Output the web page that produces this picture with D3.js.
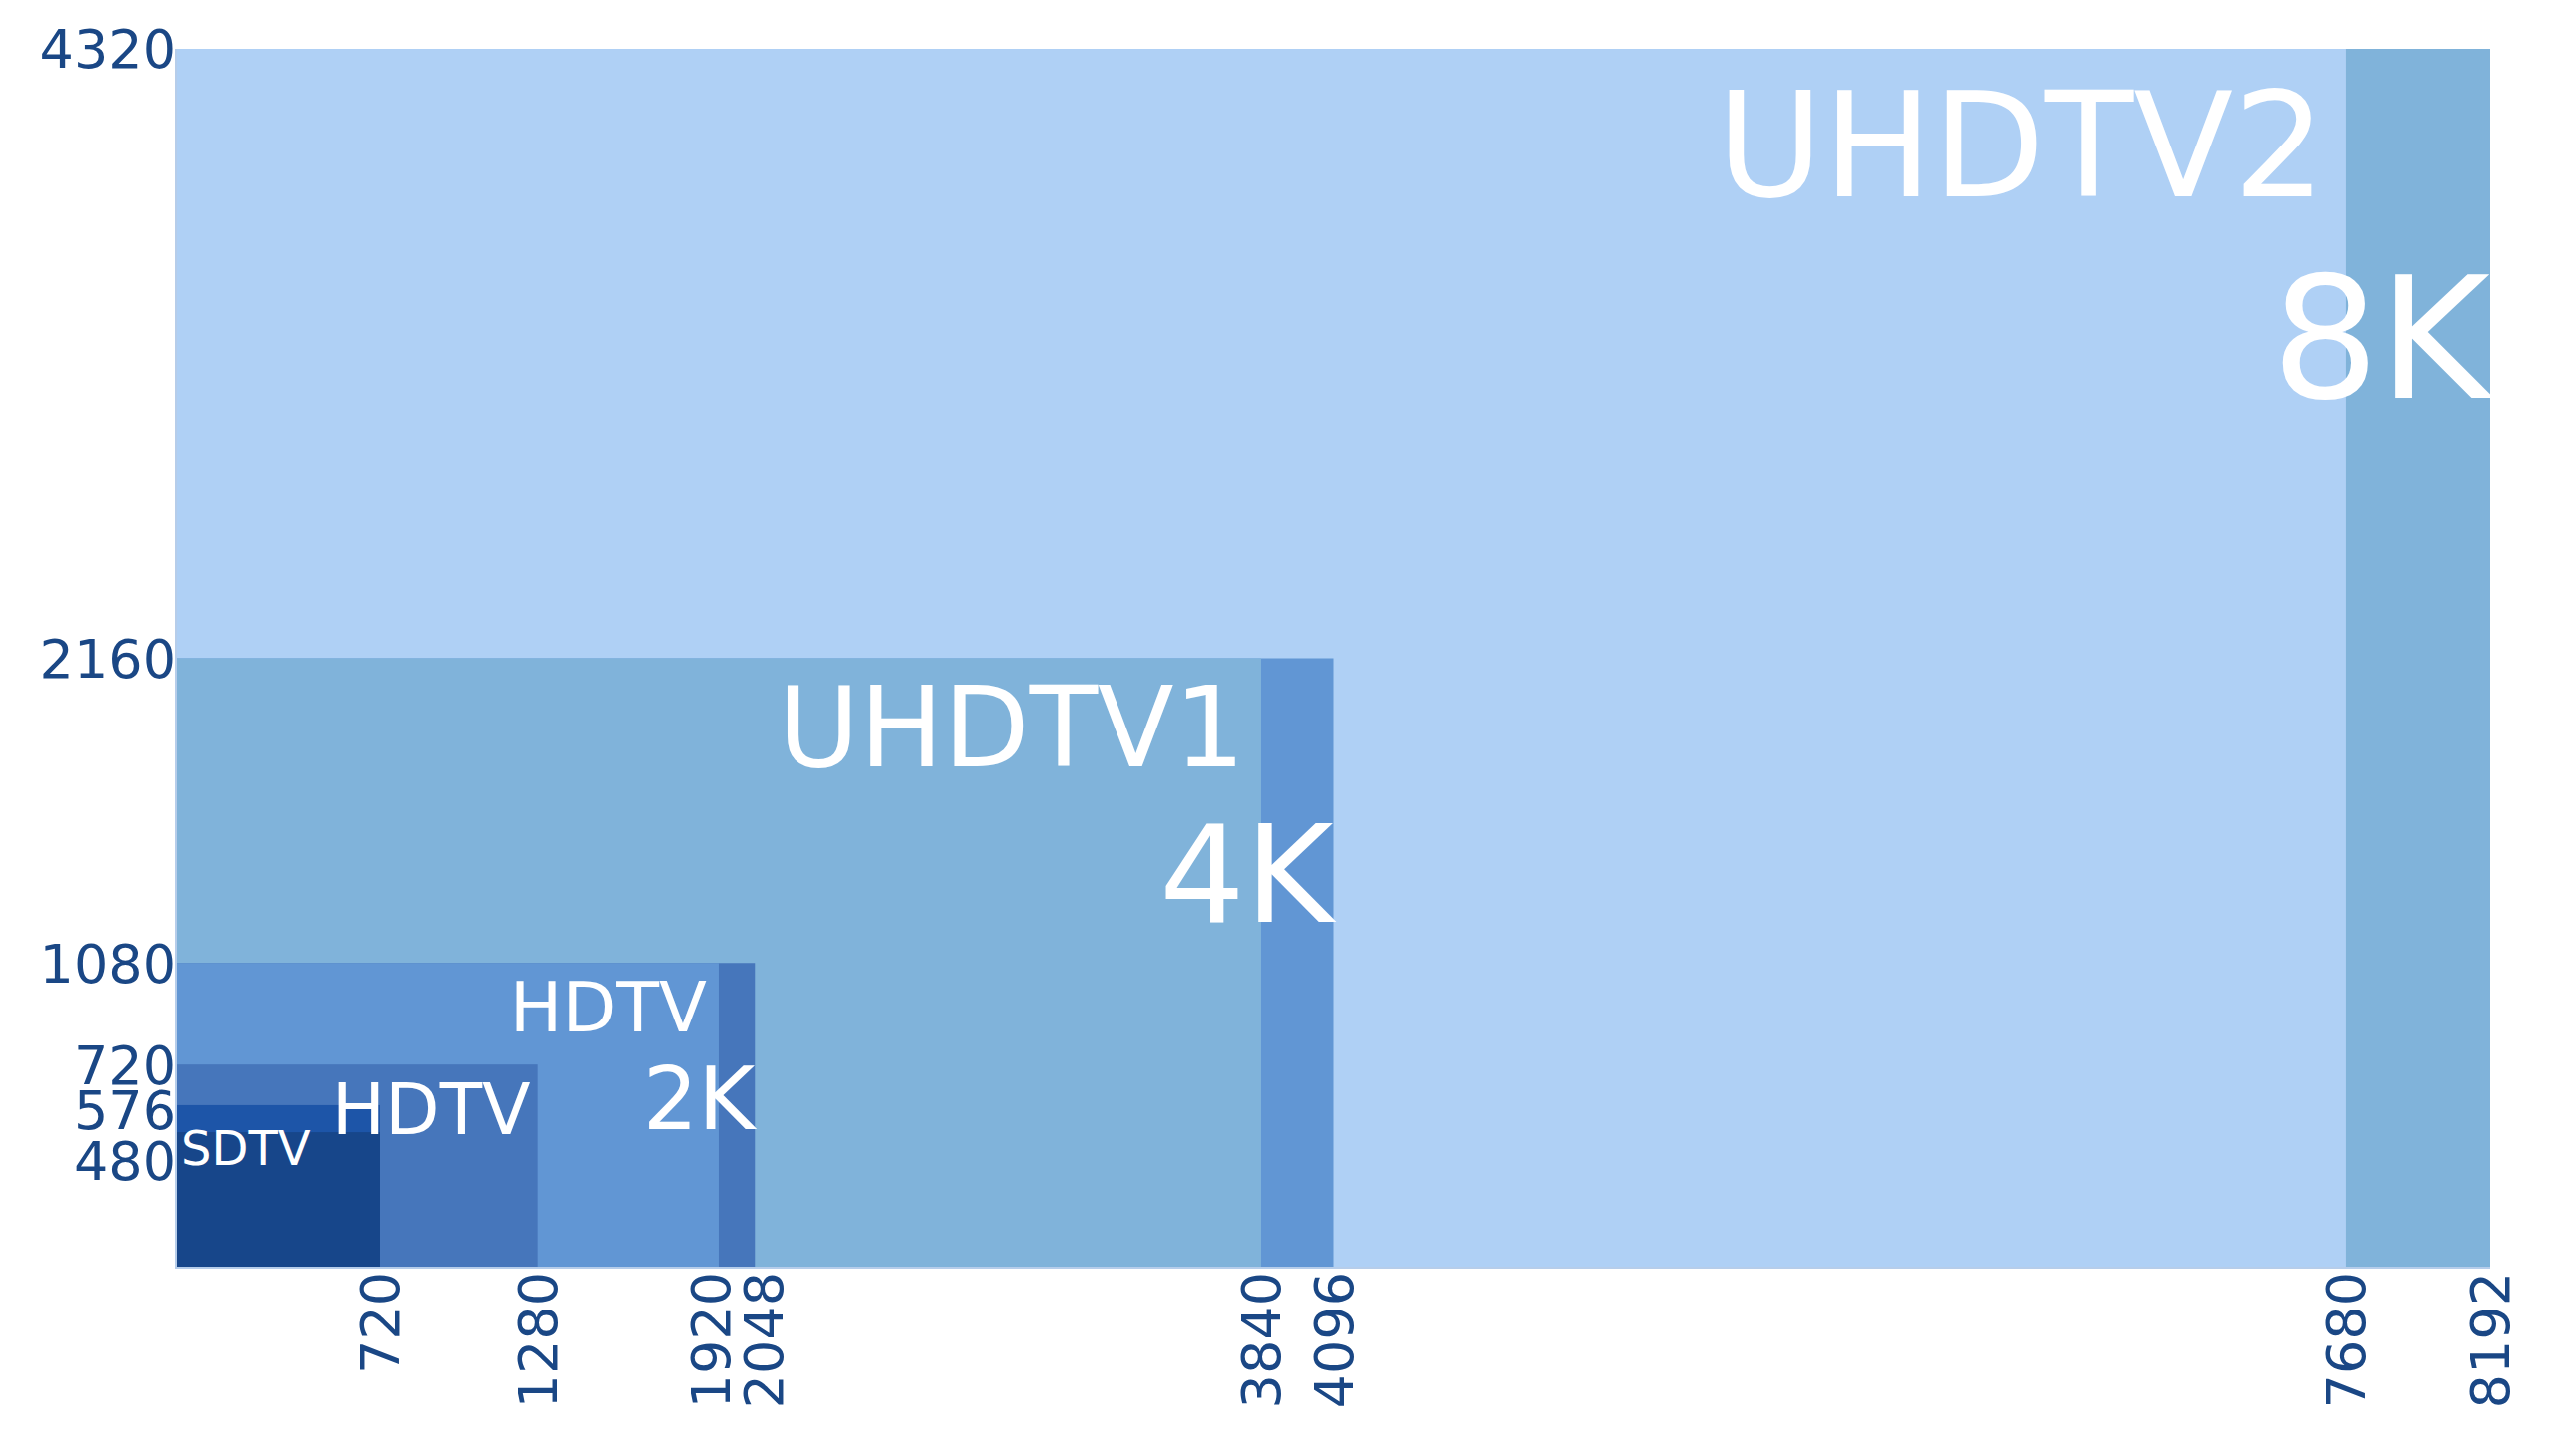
<!DOCTYPE html>
<html><head><meta charset="utf-8">
<script src="https://cdn.jsdelivr.net/npm/d3@7"></script>
<style>body{margin:0;background:#fff}svg{display:block}</style>
</head><body>
<svg id="chart" width="2560" height="1461"></svg>
<script>
// resolutions drawn largest first
const widths  = [8192, 7680, 4096, 3840, 2048, 1920, 1280, 720, 720];
const heights = [4320, 4320, 2160, 2160, 1080, 1080, 720, 576, 480];
const fills   = ['#80b3da', '#afd0f5', '#6196d4', '#80b3da', '#4676bb', '#6196d4', '#4676bb', '#1d55a8', '#17468a'];
const xTicks = [720, 1280, 1920, 2048, 3840, 4096, 7680, 8192];
const xTickShift = [0, 0, -8, 8, 0, 0, 0, 0];
const yTicks = [480, 576, 720, 1080, 2160, 4320];
const yTickShift = [28, 5, 0, 0, 0, 0];
// labels: text, anchor x/y (data units), font size, offsets
const labelText = ['UHDTV2', '8K', 'UHDTV1', '4K', 'HDTV', '2K', 'HDTV', 'SDTV'];
const labelX    = [7680, 8192, 3840, 4096, 1920, 2048, 1280, 0];
const labelTop  = [4320, 4320, 2160, 2160, 1080, 1080, 720, 576];
const labelSize = [146, 170, 112, 135, 70, 87, 71, 48];
const labelDy   = [148, 350, 108, 264, 69, 167, 70, 60];
const labelDx   = [-20, 0, -16, 0, -12, 0, -7, 5];

const m = {left: 177, right: 62, top: 49, bottom: 189};
const svg = d3.select('#chart');
const W = 2560 - m.left - m.right, H = 1461 - m.top - m.bottom;
const x = d3.scaleLinear().domain([0, 8192]).range([m.left, m.left + W]);
const y = d3.scaleLinear().domain([0, 4320]).range([m.top + H, m.top]);

svg.selectAll('rect.res').data(widths).enter().append('rect')
  .attr('class', 'res')
  .attr('x', x(0))
  .attr('y', (d, i) => y(heights[i]))
  .attr('width', d => x(d) - x(0))
  .attr('height', (d, i) => y(0) - y(heights[i]))
  .attr('fill', (d, i) => fills[i]);

svg.append('path')
  .attr('d', `M${x(0)},${y(4320)}V${y(0)}H${x(8192)}`)
  .attr('fill', 'none').attr('stroke', '#b6cdea').attr('stroke-width', 2);

svg.selectAll('text.lbl').data(labelText).enter().append('text')
  .attr('class', 'lbl')
  .attr('x', (d, i) => x(labelX[i]) + labelDx[i])
  .attr('y', (d, i) => y(labelTop[i]) + labelDy[i])
  .attr('text-anchor', (d, i) => labelX[i] === 0 ? 'start' : 'end')
  .attr('font-family', 'DejaVu Sans')
  .attr('font-size', (d, i) => labelSize[i])
  .attr('fill', '#fff')
  .text(d => d);

const tickColor = '#1a4785';
svg.selectAll('text.yt').data(yTicks).enter().append('text')
  .attr('class', 'yt')
  .attr('x', m.left)
  .attr('y', (d, i) => y(d) + yTickShift[i])
  .attr('dy', '0.36em')
  .attr('text-anchor', 'end')
  .attr('font-family', 'DejaVu Sans').attr('font-size', 54)
  .attr('fill', tickColor)
  .text(d => d);

svg.selectAll('text.xt').data(xTicks).enter().append('text')
  .attr('class', 'xt')
  .attr('transform', (d, i) => `translate(${x(d) + xTickShift[i]},${y(0) + 4}) rotate(-90)`)
  .attr('dy', '0.36em')
  .attr('text-anchor', 'end')
  .attr('font-family', 'DejaVu Sans').attr('font-size', 54)
  .attr('fill', tickColor)
  .text(d => d);
</script>
</body></html>
